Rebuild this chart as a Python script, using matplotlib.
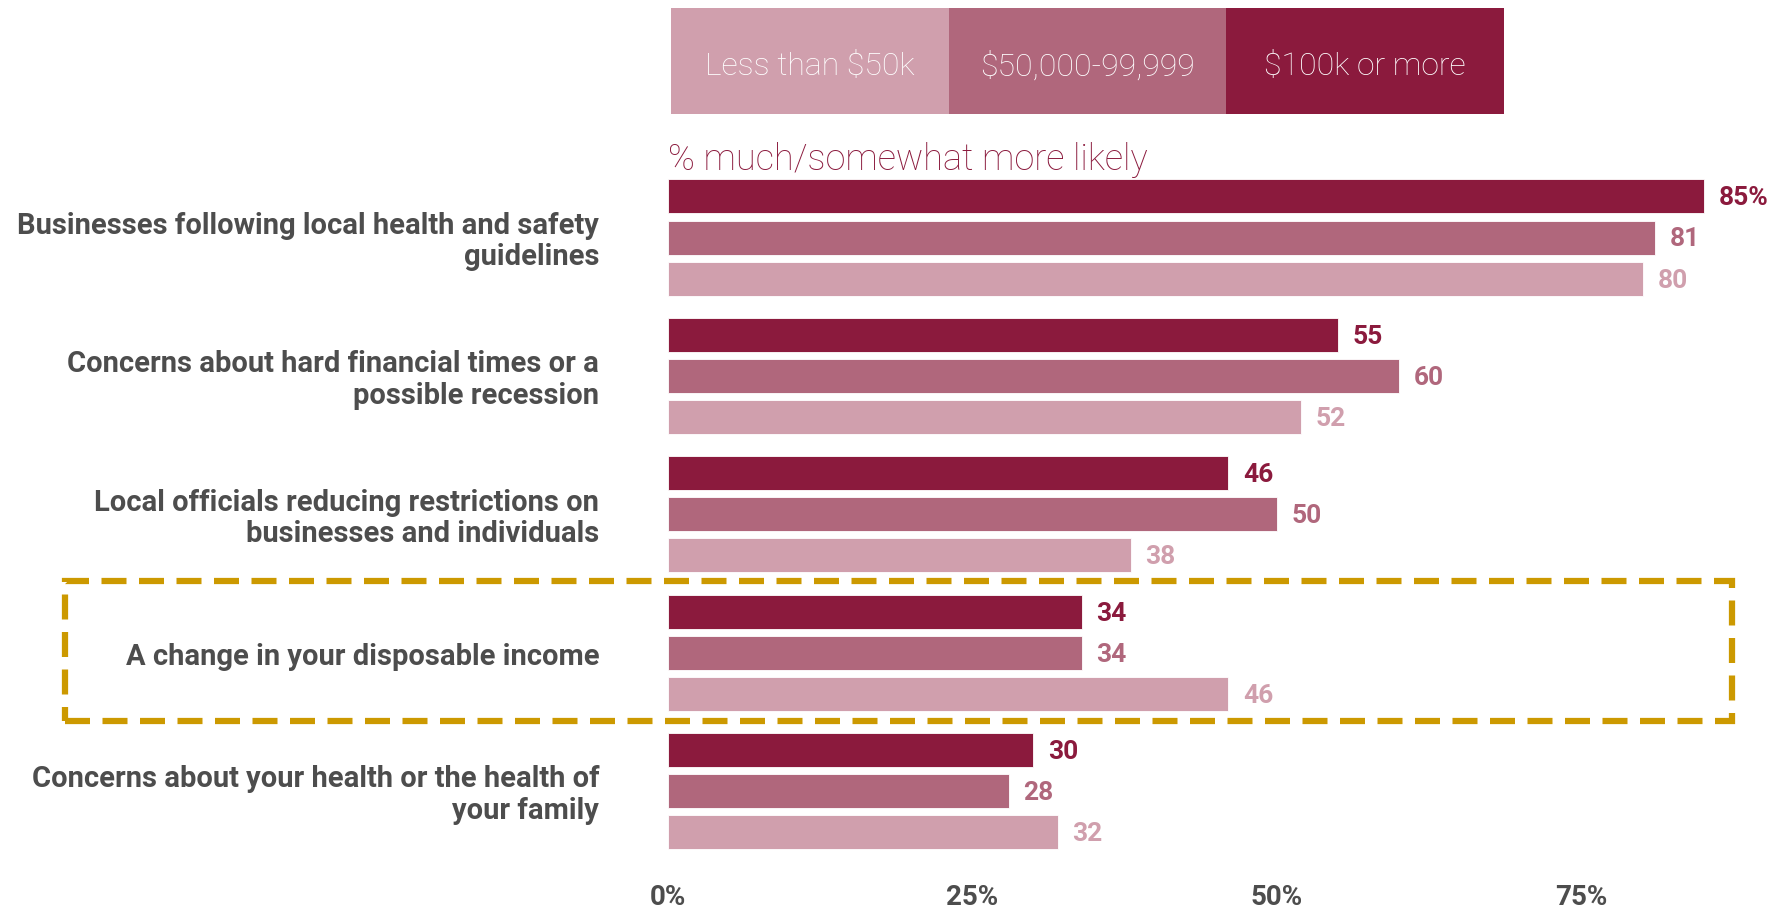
import matplotlib.pyplot as plt
from matplotlib.patches import Rectangle

plt.rcParams['font.family'] = ['Roboto', 'DejaVu Sans']

categories = [
    "Businesses following local health and safety\nguidelines",
    "Concerns about hard financial times or a\npossible recession",
    "Local officials reducing restrictions on\nbusinesses and individuals",
    "A change in your disposable income",
    "Concerns about your health or the health of\nyour family",
]
series_names = ["$100k or more", "$50,000-99,999", "Less than $50k"]
high_income = [85, 55, 46, 34, 30]
mid_income = [81, 60, 50, 34, 28]
low_income = [80, 52, 38, 46, 32]
legend_order = ["Less than $50k", "$50,000-99,999", "$100k or more"]
xticks = [0, 25, 50, 75]

colors = {"$100k or more": "#8b1a3d",
          "$50,000-99,999": "#b0677c",
          "Less than $50k": "#d09fad"}
text_grey = "#4d4d4d"
box_gold = "#cc9900"

W, H = 1789, 912
fig = plt.figure(figsize=(W / 100, H / 100), dpi=100)

# main axes: y in pixel-like units measured from the top
ax_top, ax_bot = 0, 870
ax = fig.add_axes([667.5 / W, (H - ax_bot) / H, 1121.5 / W, (ax_bot - ax_top) / H])
ax.set_xlim(0, 92)
ax.set_ylim(ax_bot, ax_top)

group_step, bar_step, bar_h = 138.4, 41.1, 34
series = [high_income, mid_income, low_income]
for g, cat in enumerate(categories):
    yc = 238.5 + g * group_step
    for s, (name, vals) in enumerate(zip(series_names, series)):
        y = yc + (s - 1) * bar_step
        v = vals[g]
        ax.barh(y, v, height=bar_h, color=colors[name], edgecolor='white', linewidth=0.6)
        lab = f"{v}%" if (g == 0 and s == 0) else f"{v}"
        ax.text(v + 1.2, y + 1, lab, ha='left', va='center', fontsize=19,
                fontweight='bold', color=colors[name])
    ax.text(-5.6, yc + 3, cat, ha='right', va='center', fontsize=21,
            fontweight='bold', color=text_grey, linespacing=1.15)

ax.text(0, 160, "% much/somewhat more likely", ha='left', va='center',
        fontsize=26, fontweight='light', color=colors["$100k or more"])

ax.set_xticks(xticks)
ax.set_xticklabels([f"{t}%" for t in xticks])
ax.tick_params(axis='x', length=0, pad=10, labelsize=20, labelcolor=text_grey)
for lbl in ax.get_xticklabels():
    lbl.set_fontweight('bold')
ax.set_yticks([])
for sp in ax.spines.values():
    sp.set_visible(False)

# dashed highlight around the disposable income group
fig.patches.append(Rectangle((65 / W, (H - 722) / H), (1732 - 65) / W, 140 / H,
                             transform=fig.transFigure, fill=False,
                             edgecolor=box_gold, linewidth=4.5,
                             linestyle=(0, (4, 2)), zorder=5))

# legend drawn as a segmented bar
lax = fig.add_axes([671 / W, (H - 115) / H, 833 / W, 106 / H])
lax.set_xlim(0, len(legend_order))
lax.set_ylim(-0.5, 0.5)
for i, name in enumerate(legend_order):
    lax.barh(0, 1, left=i, height=1, color=colors[name])
    lax.text(i + 0.5, -0.04, name, ha='center', va='center', fontsize=23,
             fontweight='light', color='white')
lax.axis('off')

fig.savefig("out.png", dpi=100)
